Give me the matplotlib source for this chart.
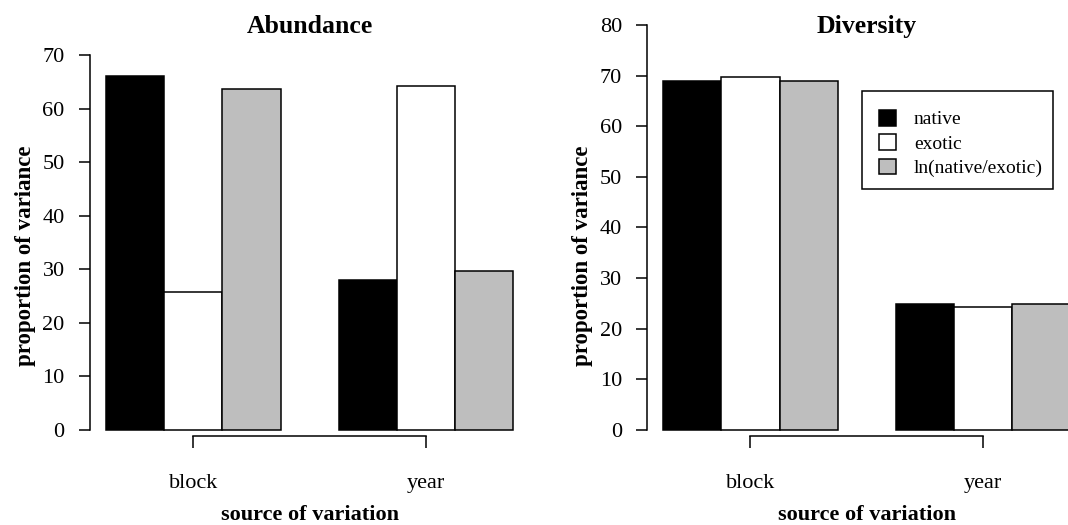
import matplotlib
matplotlib.use("Agg")
import matplotlib.pyplot as plt
from matplotlib.patches import Patch, Rectangle
import numpy as np

plt.rcParams['font.family'] = ['Liberation Serif', 'DejaVu Serif']

sources = ["block", "year"]
series = ["native", "exotic", "ln(native/exotic)"]
colors = ["black", "white", "#BEBEBE"]

abund_native = [66.0, 28.0]
abund_exotic = [25.7, 64.3]
abund_ratio = [63.6, 29.7]

div_native = [68.9, 24.9]
div_exotic = [69.7, 24.2]
div_ratio = [68.9, 24.8]

W, H = 1068, 525
fig = plt.figure(figsize=(W / 100, H / 100), dpi=100)
U = 58.2  # one bar width in pixels


def fx(x):
    return x / W


def fy(y):
    return 1 - y / H


def panel(x0, y_top, title, data, ymax):
    x1 = x0 + 7.56 * U
    ax = fig.add_axes([fx(x0), fy(430), fx(x1 - x0), (430 - y_top) / H])
    ax.set_xlim(0.72, 8.28)
    ax.set_ylim(0, ymax)
    for g in range(len(sources)):
        left = 1 + g * 4
        for s in range(len(series)):
            ax.bar(left + s, data[s][g], width=1, align="edge", color=colors[s],
                   edgecolor="black", linewidth=1.1, clip_on=False)
    ax.spines[["top", "right"]].set_visible(False)
    ax.spines["left"].set_bounds(0, ymax)
    ax.spines["bottom"].set_bounds(2.5, 6.5)
    ax.spines["bottom"].set_position(("outward", 4.3))
    ax.set_yticks(np.arange(0, ymax + 1, 10))
    ax.set_xticks([2.5, 6.5])
    ax.set_xticklabels(sources)
    ax.tick_params(axis="y", length=8, width=1.1, labelsize=16, pad=10)
    ax.tick_params(axis="x", length=8.4, width=1.1, labelsize=16, pad=19)
    for sp in ax.spines.values():
        sp.set_linewidth(1.1)
    cx = (x0 + x1) / 2
    fig.text(fx(cx), fy(33), title, ha="center", va="baseline",
             fontsize=18.5, fontweight="bold")
    fig.text(fx(cx), fy(519.5), "source of variation", ha="center", va="baseline",
             fontsize=16, fontweight="bold")
    fig.text(fx(x0 - 64.5), fy(256), "proportion of variance", ha="center", va="center",
             rotation=90, fontsize=16.5, fontweight="bold")
    return ax


ax1 = panel(89.7, 55, "Abundance", [abund_native, abund_exotic, abund_ratio], 70)
ax2 = panel(646.9, 25, "Diversity", [div_native, div_exotic, div_ratio], 80)

# legend box
fig.patches.append(Rectangle((fx(862), fy(189)), fx(1053 - 862), (189 - 91) / H,
                             transform=fig.transFigure, fill=False,
                             edgecolor="black", linewidth=1.1))
handles = [Patch(facecolor=c, edgecolor="black", linewidth=1.1) for c in colors]
fig.legend(handles, series, loc="upper left", bbox_to_anchor=(fx(879), fy(110)),
           fontsize=14, frameon=False, borderpad=0, borderaxespad=0,
           handlelength=0.85, handleheight=0.85, handletextpad=0.95,
           labelspacing=0.3)

fig.savefig("out.png", dpi=100)
